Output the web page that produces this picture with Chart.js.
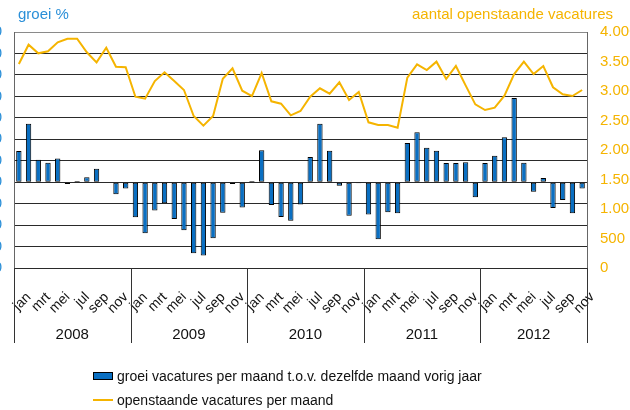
<!DOCTYPE html>
<html lang="nl">
<head>
    <meta charset="UTF-8">
    <title>Openstaande vacatures</title>
    <script src="https://cdn.jsdelivr.net/npm/chart.js@4.4.1/dist/chart.umd.min.js"></script>
    <style>
        body {
            margin: 0;
            width: 630px;
            height: 410px;
            overflow: hidden;
            position: relative;
            background: #fff;
            font-family: "Liberation Sans", Arial, sans-serif;
        }
        .chart-box {
            position: absolute;
            left: -40px;
            top: 0;
            width: 700px;
            height: 410px;
        }
        .legend {
            position: absolute;
            left: 93px;
            top: 364px;
            font-size: 14px;
            color: #111;
        }
        .legend .item {
            height: 24px;
            display: flex;
            align-items: center;
            white-space: nowrap;
        }
        .swatch-bar {
            width: 18px;
            height: 6px;
            background: #0a6fc2;
            border: 1px solid #000;
            margin-right: 4px;
        }
        .swatch-line {
            width: 20px;
            height: 2px;
            background: #f5b400;
            margin-right: 4px;
        }
    </style>
</head>
<body>
    <div class="chart-box">
        <canvas id="chart"></canvas>
    </div>
    <div class="legend" id="legend"></div>

    <script>
        // data, jan 2008 - nov 2012
        const years = ['2008', '2009', '2010', '2011', '2012'];
        const monthsPerYear = [12, 12, 12, 12, 11];
        const monthNames = ['jan', 'feb', 'mrt', 'apr', 'mei', 'jun', 'jul', 'aug', 'sep', 'okt', 'nov', 'dec'];

        // groei % t.o.v. zelfde maand vorig jaar (linker as)
        const growth = [
            14.5, 27.2, 10.5, 9.0, 11.0, -0.8, 0.5, 2.3, 6.3, -0.3, -5.6, -3.0,
            -16.3, -23.8, -13.2, -9.8, -17.2, -22.4, -33.1, -34.2, -26.1, -14.2, -0.8, -11.8,
            0.5, 14.9, -10.6, -16.2, -18.0, -10.4, 11.7, 27.2, 14.7, -1.7, -15.7, -0.5,
            -15.1, -26.6, -14.0, -14.5, 18.3, 23.3, 16.0, 14.7, 8.9, 8.9, 9.3, -7.0,
            8.9, 12.3, 21.0, 39.2, 9.0, -4.5, 1.9, -12.0, -8.3, -14.5, -3.0
        ];

        // openstaande vacatures per maand (rechter as)
        const vacancies = [
            3458, 3785, 3639, 3673, 3825, 3886, 3886, 3656, 3486, 3734, 3412, 3402,
            2903, 2869, 3169, 3317, 3169, 3017, 2576, 2412, 2576, 3208, 3385, 3005,
            2915, 3305, 2825, 2785, 2588, 2661, 2903, 3046, 2954, 3147, 2847, 2983,
            2469, 2424, 2424, 2378, 3226, 3452, 3356, 3497, 3203, 3424, 3096, 2774,
            2678, 2718, 2921, 3288, 3497, 3288, 3424, 3063, 2944, 2915, 3017
        ];

        const leftTitle = 'groei %';
        const rightTitle = 'aantal openstaande vacatures';
        const barLabel = 'groei vacatures per maand t.o.v. dezelfde maand vorig jaar';
        const lineLabel = 'openstaande vacatures per maand';

        // month labels + year positions
        const labels = [];
        const yearStart = [];
        monthsPerYear.forEach((n, y) => {
            yearStart.push(labels.length);
            for (let m = 0; m < n; m++) labels.push(monthNames[m]);
        });
        const yearMid = yearStart.map((s, i) => s + (monthsPerYear[i] - 1) / 2);

        const BLUE = '#0a6fc2';
        const GOLD = '#f5b400';
        const TITLE_BLUE = '#2a8fd8';
        const FONT = '"Liberation Sans", Arial, sans-serif';

        const nlNumber = v => v.toLocaleString('nl-NL');

        // year separators + top titles
        const decorations = {
            id: 'decorations',
            afterDraw(chart) {
                const { ctx, chartArea, scales } = chart;
                const x = scales.x;
                const half = (x.getPixelForValue(1) - x.getPixelForValue(0)) / 2;
                const bounds = yearStart.concat([labels.length]);
                ctx.save();
                ctx.strokeStyle = '#333';
                ctx.lineWidth = 1;
                bounds.forEach(b => {
                    const px = Math.round(x.getPixelForValue(b) - half) + 0.5;
                    ctx.beginPath();
                    ctx.moveTo(px, chartArea.bottom);
                    ctx.lineTo(px, chartArea.bottom + 75);
                    ctx.stroke();
                });
                ctx.font = '15px ' + FONT;
                ctx.textBaseline = 'alphabetic';
                ctx.fillStyle = TITLE_BLUE;
                ctx.textAlign = 'left';
                ctx.fillText(leftTitle, chartArea.left + 4, 19);
                ctx.fillStyle = GOLD;
                ctx.textAlign = 'right';
                ctx.fillText(rightTitle, chartArea.right + 26, 19);
                ctx.restore();
            }
        };

        const ctx = document.getElementById('chart').getContext('2d');
        const chart = new Chart(ctx, {
            type: 'bar',
            data: {
                labels: labels,
                datasets: [
                    {
                        type: 'line',
                        label: lineLabel,
                        data: vacancies,
                        yAxisID: 'y1',
                        borderColor: GOLD,
                        borderWidth: 2,
                        pointRadius: 0,
                        tension: 0,
                        fill: false,
                        order: 0
                    },
                    {
                        type: 'bar',
                        label: barLabel,
                        data: growth,
                        yAxisID: 'y',
                        backgroundColor: BLUE,
                        borderColor: '#000',
                        borderWidth: 1,
                        borderSkipped: false,
                        categoryPercentage: 1,
                        barPercentage: 0.55,
                        order: 1
                    }
                ]
            },
            options: {
                responsive: true,
                maintainAspectRatio: false,
                animation: false,
                layout: { padding: { top: 32, bottom: 68, left: 0, right: 0 } },
                plugins: {
                    legend: { display: false },
                    tooltip: { enabled: false }
                },
                scales: {
                    x: {
                        type: 'category',
                        position: 'bottom',
                        weight: 0,
                        grid: { display: false },
                        border: { display: false },
                        ticks: {
                            autoSkip: false,
                            minRotation: 45,
                            maxRotation: 45,
                            labelOffset: 10,
                            padding: 13,
                            color: '#111',
                            font: { size: 14, family: FONT },
                            callback: function (v, i) { return i % 2 === 0 ? labels[i] : ''; }
                        },
                        afterFit: s => { s.height = 50; }
                    },
                    xYear: {
                        type: 'linear',
                        position: 'bottom',
                        weight: 1,
                        offset: false,
                        min: -0.5,
                        max: labels.length - 0.5,
                        grid: { display: false, drawTicks: false, offset: false },
                        border: { display: false },
                        afterBuildTicks: s => { s.ticks = yearMid.map(v => ({ value: v })); },
                        ticks: {
                            autoSkip: false,
                            maxRotation: 0,
                            padding: 8,
                            color: '#111',
                            font: { size: 15, family: FONT },
                            callback: v => years[yearMid.indexOf(v)]
                        },
                        afterFit: s => { s.height = 24; }
                    },
                    y: {
                        position: 'left',
                        min: -40,
                        max: 70,
                        grid: {
                            drawTicks: false,
                            color: c => c.tick && c.tick.value === 70 ? '#8a8a8a' : '#2a2a2a'
                        },
                        border: { display: true, color: '#666' },
                        ticks: {
                            stepSize: 10,
                            padding: 12,
                            color: TITLE_BLUE,
                            font: { size: 15, family: FONT }
                        },
                        afterFit: s => { s.width = 54; }
                    },
                    y1: {
                        position: 'right',
                        min: 0,
                        max: 4000,
                        grid: { display: false, drawTicks: false },
                        border: { display: true, color: '#666' },
                        ticks: {
                            stepSize: 500,
                            padding: 13,
                            color: GOLD,
                            font: { size: 15, family: FONT },
                            callback: v => nlNumber(v)
                        },
                        afterFit: s => { s.width = 73; }
                    }
                }
            },
            plugins: [decorations]
        });

        // legend below the chart, built from the datasets
        const legendEl = document.getElementById('legend');
        [chart.data.datasets[1], chart.data.datasets[0]].forEach(ds => {
            const item = document.createElement('div');
            item.className = 'item';
            const sw = document.createElement('span');
            sw.className = ds.type === 'bar' ? 'swatch-bar' : 'swatch-line';
            const txt = document.createElement('span');
            txt.textContent = ds.label;
            item.appendChild(sw);
            item.appendChild(txt);
            legendEl.appendChild(item);
        });
    </script>
</body>
</html>
